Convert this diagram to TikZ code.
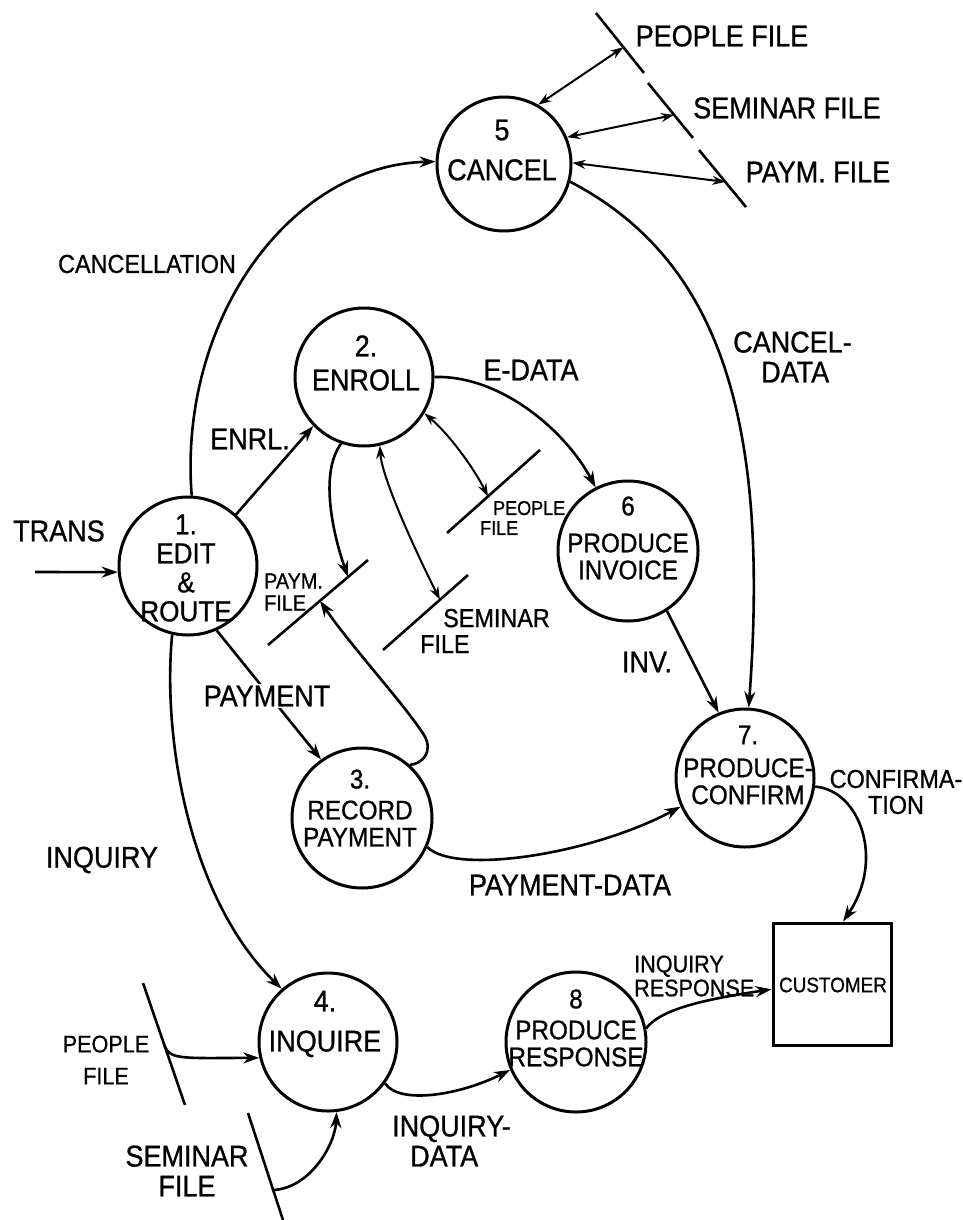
\documentclass[tikz,border=0pt]{standalone}
\usepackage{fontspec}
\setmainfont[FakeStretch=0.9,FakeBold=0.8]{Liberation Sans}
\usetikzlibrary{arrows.meta,calc}
\begin{document}
\begin{tikzpicture}[x=1pt,y=-1pt,
  proc/.style={circle,draw,line width=3pt,inner sep=0pt},
  fs/.style={font=\fontsize{#1}{#1}\selectfont},
  ptxt/.style={align=center,inner sep=0pt,fs=27},
  lbl/.style={inner sep=0pt,fs=30},
  flow/.style={line width=2.6pt,-{Stealth[length=16pt,width=11pt]}},
  both/.style={line width=2pt,{Stealth[length=13pt,width=9pt]}-{Stealth[length=13pt,width=9pt]}},
  store/.style={line width=2.6pt}
]
\useasboundingbox (0,0) rectangle (963,1220);

% processes
\node[proc,minimum size=138pt] (c1) at (188,566) {};
\node[proc,minimum size=138pt] (c2) at (364,377) {};
\node[proc,minimum size=134pt] (c5) at (504,164) {};
\node[proc,minimum size=140pt] (c6) at (628,551) {};
\node[proc,minimum size=140pt] (c3) at (362,818) {};
\node[proc,minimum size=138pt] (c7) at (745,778) {};
\node[proc,minimum size=138pt] (c4) at (328,1042) {};
\node[proc,minimum size=140pt] (c8) at (576,1042) {};
\node[draw,line width=3pt,minimum width=118pt,minimum height=122pt,inner sep=0pt] (cust) at (832,984) {};

% process texts
\node[ptxt,fs=29] (t1) at (186,568) {1.\\EDIT\\\&\\ROUTE};
\node[ptxt,fs=30] (t2) at (366,363) {2.\\[4pt]ENROLL};
\node[ptxt,fs=30] (t5) at (502,150) {5\\[10pt]CANCEL};
\node[ptxt] (t6) at (628,538) {6\\[10pt]PRODUCE\\INVOICE};
\node[ptxt] (t3) at (360,808) {3.\\[4pt]RECORD\\PAYMENT};
\node[ptxt] (t7) at (748,765) {7.\\[6pt]PRODUCE-\\CONFIRM};
\node[ptxt,fs=30] (t4) at (325,1024) {4.\\[10pt]INQUIRE};
\node[ptxt] (t8) at (576,1028) {8\\[4pt]PRODUCE\\RESPONSE};
\node[inner sep=0pt,fs=21] (tcust) at (833,985) {CUSTOMER};

% data stores
\coordinate (sa1) at (596,13);  \coordinate (sa2) at (644,73);
\coordinate (sb1) at (648,83);  \coordinate (sb2) at (693,138);
\coordinate (sc1) at (699,150); \coordinate (sc2) at (746,207);
\coordinate (pm1) at (447,533); \coordinate (pm2) at (540,450);
\coordinate (py1) at (268,645); \coordinate (py2) at (368,560);
\coordinate (sm1) at (383,650); \coordinate (sm2) at (468,575);
\coordinate (pb1) at (143,983); \coordinate (pb2) at (185,1105);
\coordinate (qb1) at (248,1113); \coordinate (qb2) at (283,1220);
\foreach \a/\b in {sa1/sa2,sb1/sb2,sc1/sc2,pm1/pm2,py1/py2,sm1/sm2,pb1/pb2,qb1/qb2}
  \draw[store] (\a) -- (\b);

% flows
\coordinate (tin) at (35,572);
\draw[flow] (tin) -- (c1.185);
\draw[flow] (c1.87) .. controls (178,320) and (290,165) .. (c5.178);
\draw[flow] (c1.47) -- (c2.224);
\draw[flow] (c2.0) .. controls (500,375) and (565,430) .. (c6.117);
\draw[both] (c2.-31) .. controls (450,435) and (475,470) .. ($(pm1)!0.44!(pm2)$);
\draw[flow] (c2.251) .. controls (318,475) and (335,540) .. ($(py1)!0.8!(py2)$);
\draw[both] (c2.283) .. controls (382,480) and (420,560) .. ($(sm1)!0.67!(sm2)$);
\draw[flow] (c3.48) .. controls (422,764) and (434,752) .. (424,735)
  .. controls (405,705) and (350,645) .. ($(py1)!0.52!(py2)$);
\draw[flow] (c1.-66) -- (c3.125);
\draw[flow] (c1.257) .. controls (162,740) and (190,900) .. (c4.131);
\draw[flow] (c5.-15) .. controls (720,260) and (770,420) .. (c7.87);
\draw[flow] (c6.-57) -- (c7.112);
\draw[flow] (c3.-24) .. controls (455,875) and (590,855) .. (c7.204);
\draw[flow] (c7.-7) .. controls (860,790) and (885,860) .. (cust.80);
\draw[flow] ($(pb1)!0.52!(pb2)$) .. controls (170,1060) and (185,1058) .. (c4.193);
\draw[flow] ($(qb1)!0.72!(qb2)$) .. controls (310,1188) and (335,1145) .. (c4.-83);
\draw[flow] (c4.-36) .. controls (400,1105) and (460,1095) .. (c8.203);
\draw[flow] (c8.11) .. controls (660,1010) and (700,1000) .. (cust.185);
\draw[both] (c5.60) -- ($(sa1)!0.57!(sa2)$);
\draw[both] (c5.23) -- ($(sb1)!0.58!(sb2)$);
\draw[both] (c5.1) -- ($(sc1)!0.56!(sc2)$);

% flow and store labels
\node[lbl] (ltrans) at (59,531) {TRANS};
\node[lbl,fs=26] (lcanc) at (147,264) {CANCELLATION};
\node[lbl] (lenrl) at (250,439) {ENRL.};
\node[lbl] (ledata) at (531,370) {E-DATA};
\node[lbl,fill=white,inner sep=2pt] (lpay) at (267,696) {PAYMENT};
\node[lbl] (linq) at (102,860) {INQUIRY};
\node[lbl,fs=22,align=left,anchor=west] (lpaym) at (264,592) {PAYM.\\FILE};
\node[lbl,fs=20,align=left,anchor=west] (lpm) at (480,518) {\hspace{13pt}PEOPLE\\FILE};
\node[lbl,fs=26,align=left,anchor=west] (lsm) at (420,631) {\hspace{23pt}SEMINAR\\FILE};
\node[lbl] (lpf) at (722,36) {PEOPLE FILE};
\node[lbl] (lsf) at (787,108) {SEMINAR FILE};
\node[lbl] (lpyf) at (818,172) {PAYM. FILE};
\node[lbl,align=left,anchor=west] (lcd) at (733,357) {CANCEL-\\\hspace{28pt}DATA};
\node[lbl] (linv) at (647,662) {INV.};
\node[lbl,fs=26,align=center] (lconf) at (896,792) {CONFIRMA-\\TION};
\node[lbl] (lpd) at (570,885) {PAYMENT-DATA};
\node[lbl,fs=24,align=center] (lpb) at (106,1060) {PEOPLE\\[8pt]FILE};
\node[lbl,align=center] (lqb) at (187,1171) {SEMINAR\\FILE};
\node[lbl,align=left,anchor=west] (lid) at (392,1141) {INQUIRY-\\\hspace{18pt}DATA};
\node[lbl,fs=24,align=left,anchor=west] (lir) at (634,976) {INQUIRY\\RESPONSE};
\end{tikzpicture}
\end{document}
